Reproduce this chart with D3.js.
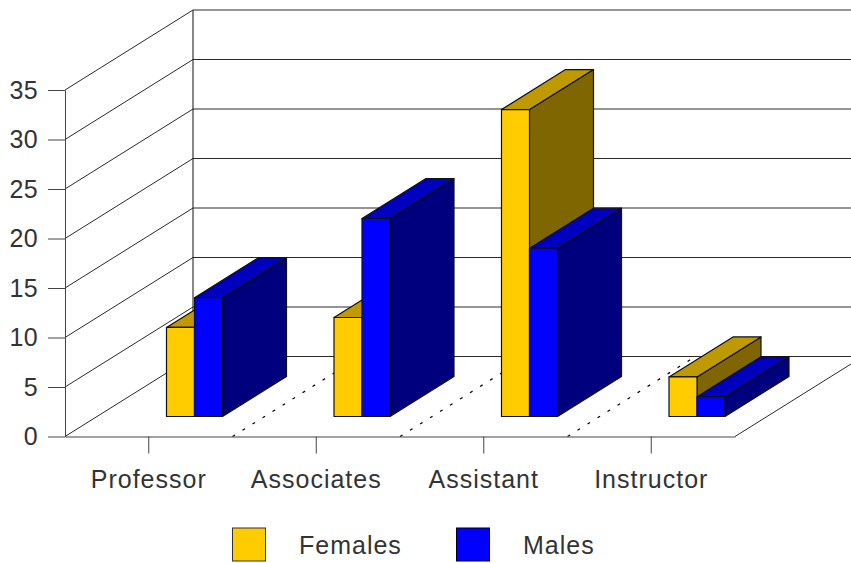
<!DOCTYPE html>
<html><head><meta charset="utf-8">
<script src="https://cdn.jsdelivr.net/npm/d3@7"></script>
<style>
html,body{margin:0;padding:0;background:#fff;overflow:hidden}
svg{display:block}
text{font-family:"Liberation Sans",Arial,sans-serif;fill:#333}
</style></head><body>
<svg id="c" width="851" height="563"></svg>
<script>
const categories = ["Professor","Associates","Assistant","Instructor"];
const females = [9,10,31,4];
const males = [12,20,17,2];
const yTicks = [0,5,10,15,20,25,30,35];
const seriesNames = ["Females","Males"];
const faceColors = ["#FFCC00","#0000FF"];
const topColors = ["#BF9900","#0000BF"];
const sideColors = ["#7F6600","#00007F"];

const svg = d3.select("#c");
const W = 851, H = 563;
const left = 65, right = 735, floorY = 436.5, topY = 90;
const depthX = 128, depthY = -80;

const x = d3.scaleBand().domain(categories).range([left,right]);
const y = d3.scaleLinear().domain([0,35]).range([floorY,topY]);
const lineCol = "#2a2a2a";

svg.append("defs").append("clipPath").attr("id","pl").append("rect").attr("width",W).attr("height",H);
const plot = svg.append("g").attr("clip-path","url(#pl)");

// walls
yTicks.forEach(t=>{
  const yy=y(t);
  plot.append("path").attr("fill","none").attr("stroke",lineCol).attr("stroke-width",1)
    .attr("d",d3.line()([[left,yy],[left+depthX,yy+depthY],[right+depthX,yy+depthY]]));
});
plot.append("line").attr("x1",left+depthX).attr("x2",left+depthX)
  .attr("y1",y(0)+depthY).attr("y2",y(35)+depthY).attr("stroke","#111");
plot.append("line").attr("x1",right).attr("y1",floorY).attr("x2",right+depthX).attr("y2",floorY+depthY)
  .attr("stroke",lineCol);

// floor separators
categories.slice(1).forEach(c=>{
  const sx=x(c);
  plot.append("line").attr("x1",sx).attr("y1",floorY).attr("x2",sx+depthX).attr("y2",floorY+depthY)
    .attr("stroke","#000").attr("stroke-width",1.2).attr("stroke-dasharray","3 8.8");
});

// axes
const axY = svg.append("g").attr("transform",`translate(${left},0)`)
  .call(d3.axisLeft(y).tickValues(yTicks).tickSize(17).tickSizeOuter(0).tickPadding(10));
const axX = svg.append("g").attr("transform",`translate(0,${floorY})`)
  .call(d3.axisBottom(x).tickSize(17).tickSizeOuter(0).tickPadding(17));
[axY,axX].forEach(a=>{
  a.selectAll("path,line").attr("stroke","#444").attr("stroke-width",1);
  a.selectAll("text").style("font-size","25px").attr("fill","#333").style("font-family",'"Liberation Sans"');
});
axX.selectAll("text").style("letter-spacing","1px");
axY.selectAll("text").style("letter-spacing","0.4px");

// bars
const barOffset = 69.5+32, barW = 28, baseShiftY = -20, bdx = 64, bdy = -40;
const vals = [females,males];
const bh = v => y(0)-y(v);
const baseY = floorY+baseShiftY;
categories.forEach((c,i)=>{
  vals.forEach((vs,s)=>{
    const x0 = x(c)+barOffset+s*barW, x1=x0+barW, h=bh(vs[i]), yb=baseY, yt=baseY-h;
    const g = plot.append("g").attr("stroke","#111").attr("stroke-width",1.2).attr("stroke-linejoin","round");
    g.append("path").attr("fill",sideColors[s])
      .attr("d",d3.line()([[x1,yb],[x1+bdx,yb+bdy],[x1+bdx,yt+bdy],[x1,yt]])+"Z");
    g.append("path").attr("fill",topColors[s])
      .attr("d",d3.line()([[x0,yt],[x0+bdx,yt+bdy],[x1+bdx,yt+bdy],[x1,yt]])+"Z");
    g.append("rect").attr("x",x0).attr("y",yt).attr("width",barW).attr("height",h).attr("fill",faceColors[s]);
  });
});

// legend
const legendRect = [232,456], legendText = [299,523];
seriesNames.forEach((n,s)=>{
  svg.append("rect").attr("x",legendRect[s]+.5).attr("y",528).attr("width",33).attr("height",33)
    .attr("fill",faceColors[s]).attr("stroke",s?"#001":"#333");
  svg.append("text").attr("x",legendText[s]).attr("y",554).style("font-size","25px").style("letter-spacing","1px").text(n);
});
</script>
</body></html>
